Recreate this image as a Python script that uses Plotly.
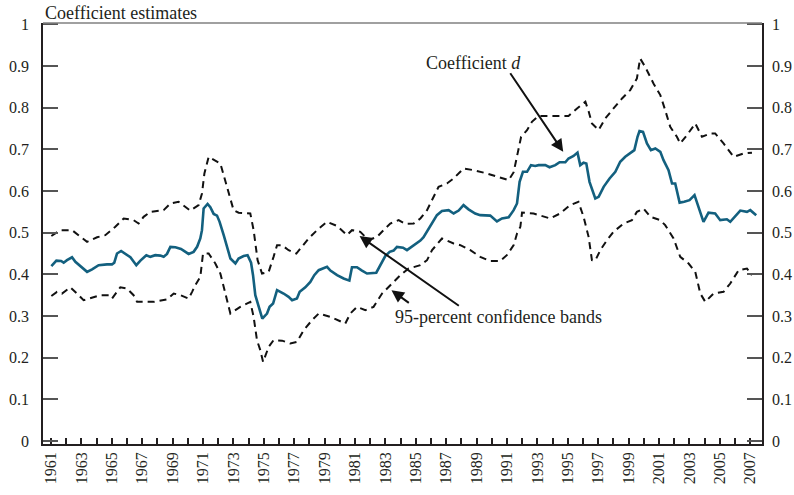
import plotly.graph_objects as go

# ---- data (decimal years, coefficient values) ----
coef_year = [1961.02,1961.35,1961.66,1961.83,1962.05,1962.38,1962.60,1963.04,1963.37,1963.70,
 1964.13,1964.68,1965.01,1965.16,1965.34,1965.61,1965.89,1966.22,1966.61,1966.88,
 1967.27,1967.53,1967.86,1968.19,1968.41,1968.63,1968.85,1969.18,1969.55,1969.84,
 1970.05,1970.38,1970.61,1970.82,1970.93,1971.04,1971.30,1971.48,1971.70,1971.92,
 1972.09,1972.36,1972.80,1973.13,1973.34,1973.67,1973.93,1974.16,1974.29,1974.44,
 1974.66,1974.90,1975.21,1975.38,1975.61,1975.87,1976.30,1976.63,1976.86,1977.18,
 1977.36,1977.73,1978.06,1978.32,1978.61,1979.16,1979.38,1979.82,1980.25,1980.63,
 1980.80,1981.13,1981.46,1981.79,1982.40,1982.66,1982.99,1983.28,1983.54,1983.76,
 1984.16,1984.42,1984.86,1985.30,1985.51,1985.95,1986.39,1986.72,1987.16,1987.49,
 1987.82,1988.14,1988.47,1988.91,1989.24,1989.90,1990.34,1990.67,1991.11,1991.44,
 1991.66,1991.83,1992.05,1992.32,1992.58,1992.86,1993.08,1993.52,1993.80,1994.18,
 1994.46,1994.84,1995.05,1995.38,1995.64,1995.82,1996.04,1996.22,1996.43,1996.81,
 1997.03,1997.36,1997.75,1998.13,1998.45,1998.78,1999.11,1999.38,1999.59,1999.72,
 1999.95,2000.21,2000.47,2000.76,2001.09,2001.30,2001.63,2001.86,2002.07,2002.36,
 2002.66,2003.01,2003.34,2003.61,2003.93,2004.26,2004.70,2005.03,2005.47,2005.69,
 2006.02,2006.35,2006.79,2007.01,2007.40]
coef_d = [0.420,0.433,0.432,0.428,0.434,0.441,0.430,0.417,0.406,0.412,
 0.422,0.424,0.424,0.428,0.450,0.456,0.450,0.441,0.422,0.433,
 0.446,0.442,0.446,0.445,0.442,0.449,0.466,0.465,0.461,0.454,
 0.449,0.454,0.466,0.486,0.506,0.558,0.569,0.561,0.545,0.541,
 0.526,0.494,0.438,0.426,0.438,0.444,0.446,0.428,0.398,0.350,
 0.322,0.294,0.306,0.322,0.330,0.362,0.354,0.346,0.338,0.342,
 0.358,0.369,0.382,0.398,0.410,0.418,0.409,0.398,0.390,0.385,
 0.417,0.417,0.409,0.402,0.404,0.422,0.444,0.454,0.457,0.466,
 0.464,0.458,0.470,0.481,0.489,0.516,0.542,0.552,0.554,0.546,
 0.553,0.566,0.556,0.546,0.542,0.541,0.527,0.534,0.537,0.554,
 0.570,0.622,0.646,0.646,0.662,0.660,0.662,0.662,0.657,0.662,
 0.669,0.669,0.678,0.684,0.692,0.662,0.668,0.666,0.622,0.582,
 0.586,0.610,0.630,0.646,0.670,0.682,0.690,0.698,0.730,0.744,
 0.742,0.714,0.698,0.702,0.694,0.674,0.650,0.618,0.618,0.572,
 0.574,0.578,0.590,0.562,0.526,0.548,0.546,0.530,0.532,0.526,
 0.540,0.553,0.550,0.554,0.542]

upper_year = [1961.02,1961.61,1962.38,1963.37,1964.03,1964.57,1965.23,1965.78,1966.43,1966.76,
 1967.09,1967.53,1968.41,1968.85,1969.39,1970.16,1970.71,1970.93,1971.09,1971.37,
 1972.14,1972.58,1973.01,1973.34,1974.11,1974.33,1974.59,1974.88,1975.32,1975.64,
 1975.87,1976.20,1976.63,1977.14,1977.51,1977.95,1978.50,1979.16,1979.82,1980.47,
 1980.80,1981.35,1981.89,1982.45,1982.88,1983.32,1983.87,1984.31,1984.86,1985.30,
 1985.74,1986.07,1986.50,1987.05,1987.49,1988.14,1988.80,1989.68,1990.34,1991.11,
 1991.44,1991.71,1991.93,1992.32,1992.64,1993.08,1994.07,1995.05,1995.61,1996.16,
 1996.38,1996.59,1997.03,1997.47,1998.01,1998.57,1999.11,1999.55,1999.76,2000.09,
 2000.64,2001.09,2001.41,2001.74,2002.18,2002.40,2002.84,2003.39,2003.83,2004.38,
 2004.70,2005.25,2005.91,2006.57,2007.12]
upper_band = [0.492,0.506,0.506,0.478,0.489,0.494,0.514,0.534,0.530,0.522,
 0.538,0.550,0.554,0.570,0.574,0.553,0.566,0.594,0.642,0.682,
 0.666,0.606,0.554,0.548,0.546,0.506,0.434,0.402,0.406,0.442,
 0.470,0.470,0.458,0.450,0.466,0.486,0.506,0.526,0.516,0.494,
 0.506,0.502,0.482,0.490,0.506,0.522,0.530,0.521,0.522,0.534,
 0.554,0.578,0.610,0.618,0.630,0.654,0.650,0.642,0.634,0.626,
 0.645,0.690,0.730,0.746,0.766,0.780,0.780,0.780,0.798,0.814,
 0.790,0.762,0.746,0.774,0.798,0.822,0.842,0.870,0.918,0.898,
 0.858,0.830,0.794,0.754,0.730,0.714,0.734,0.762,0.730,0.738,
 0.738,0.714,0.682,0.690,0.692]

lower_year = [1961.02,1961.39,1961.72,1962.27,1962.82,1963.14,1964.24,1964.79,1965.01,1965.56,
 1966.00,1966.43,1966.66,1967.75,1968.63,1969.07,1969.51,1970.05,1970.28,1970.49,
 1970.82,1971.00,1971.37,1971.81,1972.14,1972.47,1972.80,1973.45,1974.11,1974.33,
 1974.55,1974.77,1974.95,1975.32,1975.64,1976.20,1976.74,1977.18,1977.62,1978.17,
 1978.61,1979.38,1979.92,1980.36,1980.69,1981.13,1981.68,1982.22,1982.78,1983.32,
 1983.98,1984.53,1985.30,1985.74,1986.07,1986.72,1987.49,1987.93,1988.59,1989.24,
 1989.90,1990.55,1990.99,1991.44,1991.66,1991.88,1991.99,1992.75,1993.84,1994.49,
 1995.15,1995.70,1996.04,1996.37,1996.59,1996.81,1997.14,1997.58,1998.01,1998.67,
 1999.22,1999.55,1999.99,2000.43,2001.09,2001.41,2001.96,2002.40,2002.95,2003.39,
 2003.72,2004.05,2004.59,2005.25,2005.69,2006.24,2006.79,2007.12]
lower_band = [0.348,0.358,0.354,0.369,0.350,0.338,0.350,0.350,0.342,0.369,
 0.366,0.350,0.334,0.334,0.340,0.354,0.350,0.342,0.358,0.374,
 0.394,0.450,0.450,0.426,0.402,0.354,0.306,0.322,0.334,0.298,
 0.242,0.218,0.190,0.226,0.242,0.241,0.234,0.238,0.266,0.290,
 0.306,0.298,0.290,0.282,0.306,0.322,0.314,0.322,0.354,0.374,
 0.398,0.414,0.422,0.434,0.458,0.486,0.474,0.470,0.458,0.442,
 0.432,0.432,0.446,0.470,0.498,0.514,0.548,0.546,0.534,0.546,
 0.566,0.574,0.538,0.490,0.434,0.433,0.458,0.482,0.502,0.522,
 0.530,0.550,0.558,0.538,0.530,0.518,0.486,0.442,0.426,0.406,
 0.354,0.334,0.354,0.358,0.378,0.410,0.414,0.398]

years = list(range(1961, 2008))
year_labels = [str(y) if (y - 1961) % 2 == 0 else "" for y in years]
y_ticks = [0, 0.1, 0.2, 0.3, 0.4, 0.5, 0.6, 0.7, 0.8, 0.9, 1]
y_labels = ["0", "0.1", "0.2", "0.3", "0.4", "0.5", "0.6", "0.7", "0.8", "0.9", "1"]

FONT = "Liberation Serif"
TXT = "#231f20"
YR = [-0.007, 1.003]
XR = [1960.47, 2007.78]

fig = go.Figure()
dash = "7px,5px"
fig.add_trace(go.Scatter(x=upper_year, y=upper_band, mode="lines",
                         line=dict(color="#111111", width=2, dash=dash), hoverinfo="skip"))
fig.add_trace(go.Scatter(x=lower_year, y=lower_band, mode="lines",
                         line=dict(color="#111111", width=2, dash=dash), hoverinfo="skip"))
fig.add_trace(go.Scatter(x=coef_year, y=coef_d, mode="lines",
                         line=dict(color="#13607f", width=2.6), hoverinfo="skip"))
# invisible trace for the right axis
fig.add_trace(go.Scatter(x=[coef_year[0]], y=[coef_d[0]], yaxis="y2", mode="markers",
                         marker=dict(opacity=0), hoverinfo="skip"))

axis_font = dict(family=FONT, size=16, color=TXT)
fig.update_layout(
    width=794, height=495,
    margin=dict(l=43, r=32, t=23, b=51, autoexpand=False),
    paper_bgcolor="white", plot_bgcolor="white",
    showlegend=False,
    font=dict(family=FONT, size=16, color=TXT),
    xaxis=dict(range=XR, tickmode="array", tickvals=years, ticktext=year_labels,
               tickangle=-90, ticks="inside", ticklen=6, tickwidth=1.5, tickcolor="#231f20",
               showline=True, linecolor="#231f20", linewidth=1.5, showgrid=False,
               zeroline=False, tickfont=axis_font, automargin=False),
    yaxis=dict(range=YR, tickmode="array", tickvals=y_ticks, ticktext=y_labels,
               ticks="inside", ticklen=15, tickwidth=1.5, tickcolor="#555555",
               showline=True, linecolor="#231f20", linewidth=1.5, showgrid=False,
               zeroline=False, tickfont=axis_font, automargin=False,
               ticklabelstandoff=9),
    yaxis2=dict(range=YR, overlaying="y", side="right", tickmode="array",
                tickvals=y_ticks, ticktext=y_labels,
                ticks="inside", ticklen=15, tickwidth=1.5, tickcolor="#555555",
                showline=True, linecolor="#231f20", linewidth=1.5, showgrid=False,
                zeroline=False, tickfont=axis_font, automargin=False,
                ticklabelstandoff=5),
)

# top border
fig.add_shape(type="line", xref="paper", yref="paper", x0=0, x1=1, y0=1, y1=1,
              line=dict(color="#808080", width=1.5))

TF = dict(family=FONT, size=18, color=TXT)
fig.add_annotation(text="Coefficient estimates", xref="paper", yref="paper",
                   x=0.0, y=1.0, xanchor="left", yanchor="bottom", yshift=-2, xshift=0,
                   showarrow=False, font=TF)

fig.add_annotation(text="Coefficient <i>d</i>", x=1988.8, y=0.907, xref="x", yref="y",
                   showarrow=False, font=TF)
fig.add_annotation(text="95-percent confidence bands", x=1990.43, y=0.297, xref="x", yref="y",
                   showarrow=False, font=TF)

arrows = [((1991.15, 0.886), (1994.70, 0.694)),
          ((1987.93, 0.322), (1981.30, 0.492)),
          ((1984.64, 0.329), (1983.40, 0.362))]
for (tx, ty), (hx, hy) in arrows:
    fig.add_annotation(text="", x=hx, y=hy, ax=tx, ay=ty, xref="x", yref="y",
                       axref="x", ayref="y", showarrow=True, arrowhead=2,
                       arrowsize=1.25, arrowwidth=2, arrowcolor="#111111")

fig.write_html("out.html", config={"displayModeBar": False},
               post_script="document.body.style.margin='0';")
